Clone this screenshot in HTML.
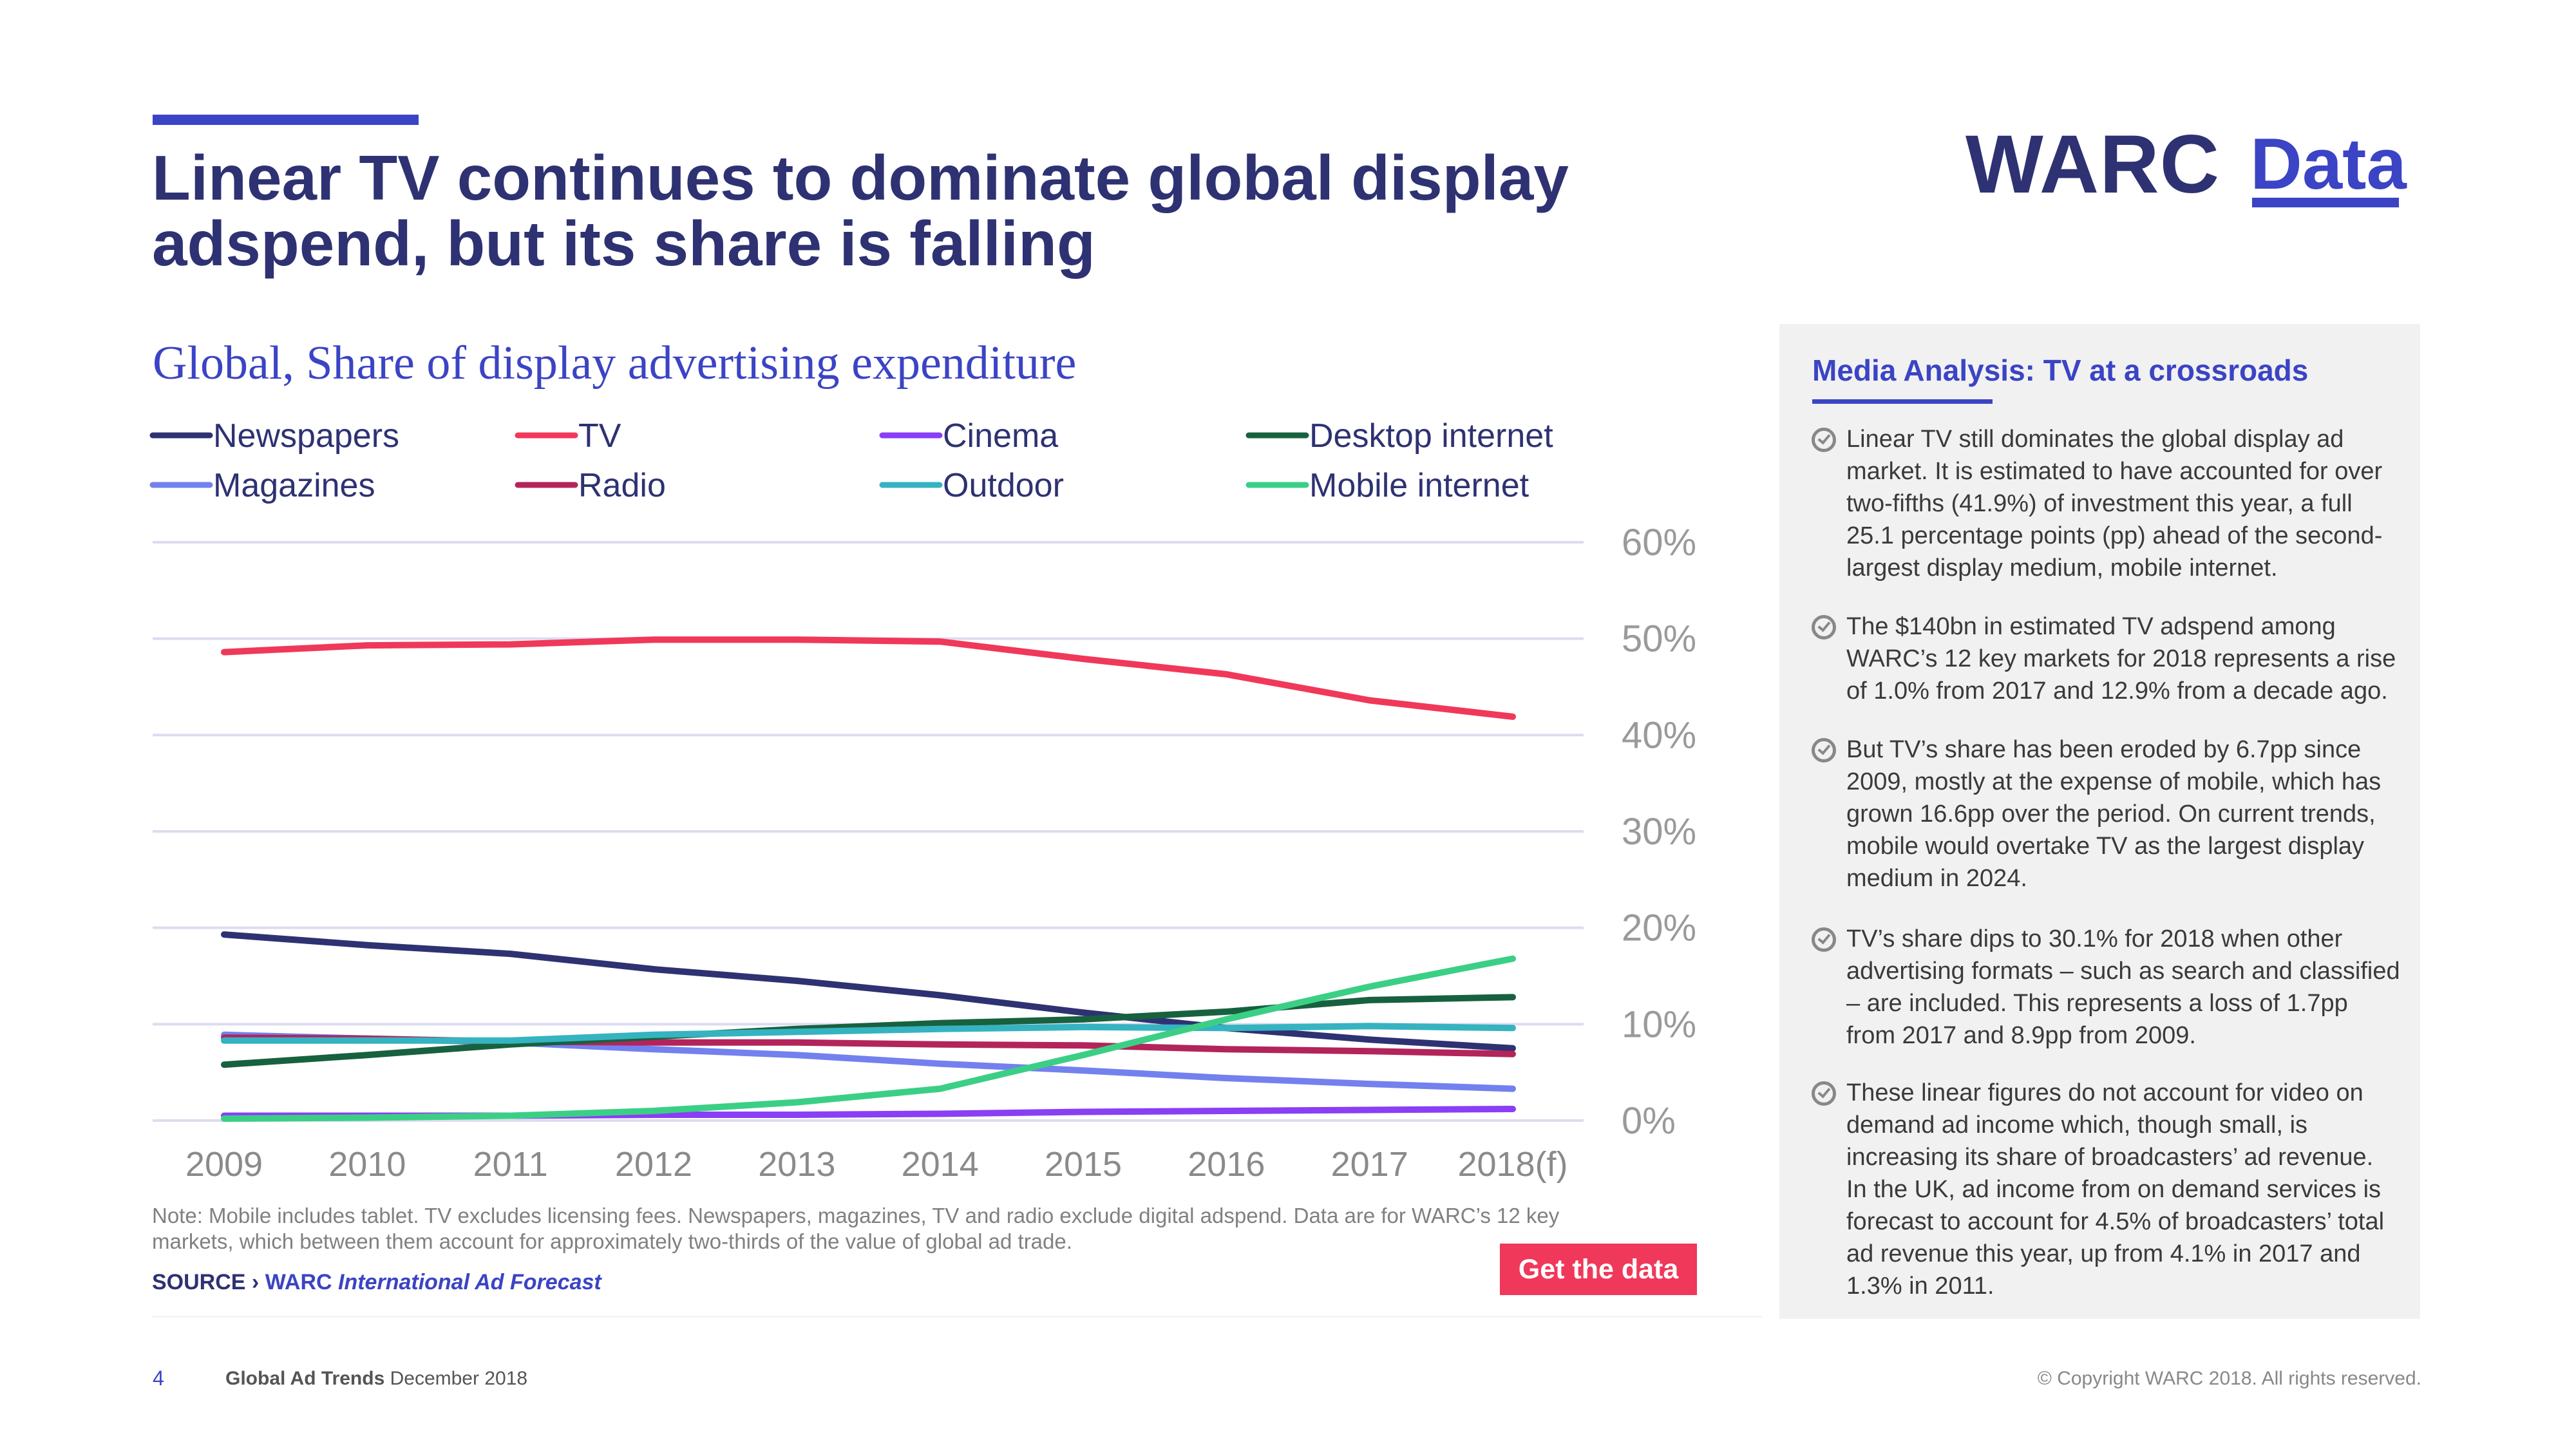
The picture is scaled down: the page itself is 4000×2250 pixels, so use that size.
<!DOCTYPE html>
<html><head><meta charset="utf-8">
<style>
html,body{margin:0;padding:0;background:#fff;}
body{width:4000px;height:2250px;position:relative;overflow:hidden;font-family:"Liberation Sans",sans-serif;}
.abs{position:absolute;}
.panel p{margin:0;position:absolute;left:104px;width:860px;font-size:38px;line-height:50px;color:#3a3a3a;}
.ic{position:absolute;left:50px;width:28px;height:28px;border:5px solid #888;border-radius:50%;}
.ic:after{content:"";position:absolute;left:9px;top:2px;width:7px;height:14px;border:solid #888;border-width:0 4px 4px 0;transform:rotate(40deg);}
</style></head><body>
<div class="abs" style="left:237px;top:178px;width:413px;height:16px;background:#3b44c4"></div>
<div class="abs" style="left:236px;top:225px;width:2300px;font-size:98px;line-height:102px;font-weight:bold;color:#2e3272">Linear TV continues to dominate global display adspend, but its share is falling</div>
<div class="abs" style="left:237px;top:522px;font-family:'Liberation Serif',serif;font-size:74px;color:#3b44c4">Global, Share of display advertising expenditure</div>

<div class="abs" style="left:3052px;top:182px;font-size:128px;font-weight:bold;color:#2e3272;letter-spacing:1px">WARC</div>
<div class="abs" style="left:3494px;top:190px;font-size:112px;font-weight:bold;color:#3b44c4">Data</div>
<div class="abs" style="left:3497px;top:307px;width:228px;height:15px;background:#3b44c4"></div>

<svg class="abs" style="left:0;top:0" width="2700" height="2250" id="chart"></svg>

<div class="abs" style="left:236px;top:1868px;width:2300px;font-size:33px;line-height:40px;color:#808080">Note: Mobile includes tablet. TV excludes licensing fees. Newspapers, magazines, TV and radio exclude digital adspend. Data are for WARC’s 12 key markets, which between them account for approximately two-thirds of the value of global ad trade.</div>
<div class="abs" style="left:236px;top:1972px;font-size:34px;font-weight:bold;color:#2e3272">SOURCE › <span style="color:#3b44c4">WARC <i>International Ad Forecast</i></span></div>
<div class="abs" style="left:2329px;top:1931px;width:306px;height:80px;background:#f0385a;color:#fff;font-weight:bold;font-size:43px;line-height:80px;text-align:center">Get the data</div>
<div class="abs" style="left:236px;top:2043px;width:2500px;height:3px;background:#f4f4f4"></div>

<div class="abs panel" style="left:2763px;top:503px;width:995px;height:1545px;background:#f1f1f1">
  <div class="abs" style="left:51px;top:45px;font-size:46px;font-weight:bold;color:#3b44c4">Media Analysis: TV at a crossroads</div>
  <div class="abs" style="left:51px;top:117px;width:280px;height:7px;background:#3b44c4"></div>
  <div class="ic" style="top:161px"></div>
  <p style="top:154px">Linear TV still dominates the global display ad market. It is estimated to have accounted for over two-fifths (41.9%) of investment this year, a full 25.1 percentage points (pp) ahead of the second-largest display medium, mobile internet.</p>
  <div class="ic" style="top:452px"></div>
  <p style="top:445px">The $140bn in estimated TV adspend among WARC’s 12 key markets for 2018 represents a rise of 1.0% from 2017 and 12.9% from a decade ago.</p>
  <div class="ic" style="top:643px"></div>
  <p style="top:636px">But TV’s share has been eroded by 6.7pp since 2009, mostly at the expense of mobile, which has grown 16.6pp over the period. On current trends, mobile would overtake TV as the largest display medium in 2024.</p>
  <div class="ic" style="top:937px"></div>
  <p style="top:930px">TV’s share dips to 30.1% for 2018 when other advertising formats – such as search and classified – are included. This represents a loss of 1.7pp from 2017 and 8.9pp from 2009.</p>
  <div class="ic" style="top:1176px"></div>
  <p style="top:1169px">These linear figures do not account for video on demand ad income which, though small, is increasing its share of broadcasters’ ad revenue. In the UK, ad income from on demand services is forecast to account for 4.5% of broadcasters’ total ad revenue this year, up from 4.1% in 2017 and 1.3% in 2011.</p>
</div>

<div class="abs" style="left:237px;top:2122px;font-size:32px;color:#3b44c4">4</div>
<div class="abs" style="left:350px;top:2124px;font-size:30px;color:#555"><b>Global Ad Trends</b> December 2018</div>
<div class="abs" style="right:240px;top:2124px;font-size:30px;color:#888">© Copyright WARC 2018. All rights reserved.</div>

<script>
const categories = ["2009","2010","2011","2012","2013","2014","2015","2016","2017","2018(f)"];
const yTicks = [0,10,20,30,40,50,60];
const seriesNames = ["Newspapers","TV","Cinema","Desktop internet","Magazines","Radio","Outdoor","Mobile internet"];
const seriesColors = ["#2e3272","#f0385a","#8a3ef5","#17613f","#7381ee","#b3245a","#35b3c0","#3bcf86"];
const newspapers = [19.3,18.2,17.3,15.7,14.5,13.0,11.2,9.6,8.4,7.5];
const tv = [48.6,49.3,49.4,49.9,49.9,49.7,47.9,46.3,43.6,41.9];
const cinema = [0.5,0.5,0.5,0.6,0.6,0.7,0.9,1.0,1.1,1.2];
const desktop = [5.8,6.8,7.9,8.7,9.5,10.1,10.5,11.3,12.5,12.8];
const magazines = [8.9,8.5,8.1,7.4,6.8,5.9,5.2,4.4,3.8,3.3];
const radio = [8.6,8.5,8.2,8.1,8.1,7.9,7.8,7.4,7.2,6.9];
const outdoor = [8.3,8.3,8.3,8.9,9.2,9.5,9.7,9.6,9.8,9.6];
const mobile = [0.2,0.3,0.5,1.0,1.9,3.3,6.8,10.5,13.9,16.8];

const svg = document.getElementById('chart');
const NS = 'http://www.w3.org/2000/svg';
const x = i => 348 + i * (2349 - 348) / (categories.length - 1);
const y = v => 1740 - v * (1740 - 842) / 60;
function mk(tag, attrs){const e=document.createElementNS(NS,tag);for(const k in attrs)e.setAttribute(k,attrs[k]);svg.appendChild(e);return e;}

yTicks.forEach(t=>{
  const g = mk('line',{x1:237,x2:2459,y1:y(t),y2:y(t),stroke:'#dcdcf0','stroke-width':4});
  
  
  const l = mk('text',{x:2518,y:y(t)+20,'font-size':58,fill:'#9a9a9a','font-family':'Liberation Sans, sans-serif'});
  l.textContent = t + '%';
  
  
});
categories.forEach((c,i)=>{
  const l = mk('text',{x:x(i),y:1826,'font-size':54,fill:'#8a8a8a','text-anchor':'middle','font-family':'Liberation Sans, sans-serif'});
  l.textContent = c;
  
  
});
const allData = [newspapers,tv,cinema,desktop,magazines,radio,outdoor,mobile];
const drawOrder = [1,0,4,5,3,6,2,7];
drawOrder.forEach(s=>{
  const d = allData[s].map((v,i)=>(i?'L':'M')+x(i).toFixed(1)+' '+y(v).toFixed(1)).join(' ');
  const p = mk('path',{d:d,fill:'none',stroke:seriesColors[s],'stroke-width':10,'stroke-linejoin':'round','stroke-linecap':'round'});
  
  
});
const legX = [237,804,1370,1939], legY = [676,753];
seriesNames.forEach((n,i)=>{
  const lx = legX[i%4], ly = legY[Math.floor(i/4)];
  const ln = mk('line',{x1:lx,x2:lx+89,y1:ly,y2:ly,stroke:seriesColors[i],'stroke-width':9,'stroke-linecap':'round'});
  
  
  const t = mk('text',{x:lx+94,y:ly+18,'font-size':52,fill:'#2e3272','font-family':'Liberation Sans, sans-serif'});
  t.textContent = n;
  
  
});
</script>
</body></html>
